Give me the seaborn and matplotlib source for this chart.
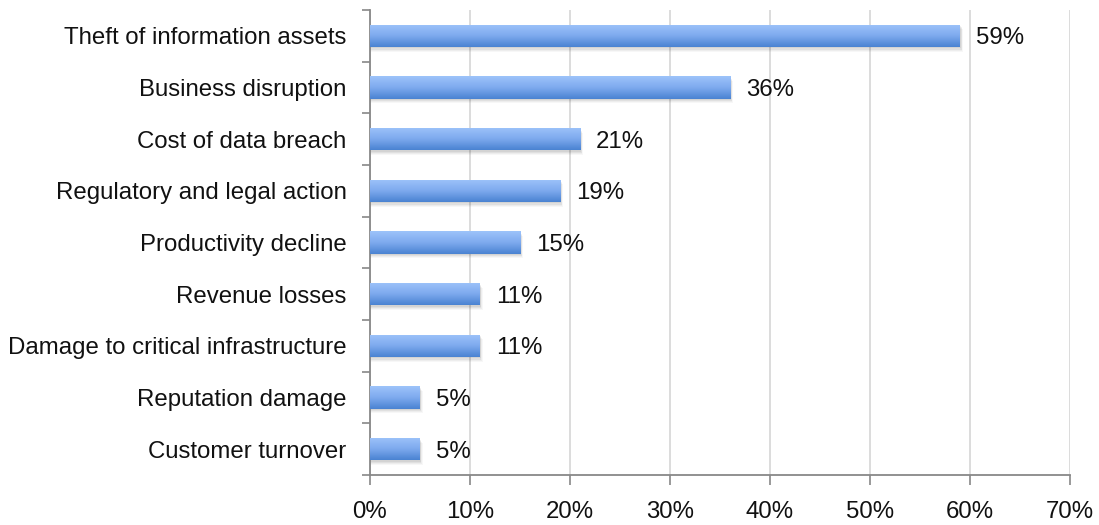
import numpy as np
import pandas as pd
import matplotlib
matplotlib.use("Agg")
import matplotlib.pyplot as plt
from matplotlib.colors import LinearSegmentedColormap
from matplotlib.patches import Rectangle
from matplotlib.ticker import FixedLocator
import seaborn as sns

categories = [
    "Theft of information assets",
    "Business disruption",
    "Cost of data breach",
    "Regulatory and legal action",
    "Productivity decline",
    "Revenue losses",
    "Damage to critical infrastructure",
    "Reputation damage",
    "Customer turnover",
]
values = [59, 36, 21, 19, 15, 11, 11, 5, 5]
x_ticks = [0, 10, 20, 30, 40, 50, 60, 70]

sns.set_theme(style="white")
plt.rcParams["font.family"] = ["Liberation Sans", "DejaVu Sans"]

FS = 17.3

df = pd.DataFrame({"category": categories, "value": values})

fig = plt.figure(figsize=(10.99, 5.25), dpi=100)
ax = fig.add_axes([370 / 1099, 50 / 525, 700 / 1099, 465 / 525])

bar_h = 0.43
sns.barplot(data=df, x="value", y="category", orient="h", width=bar_h,
            color="#6f9fe6", ax=ax, zorder=3)

ax.set_xlim(0, 70)
ax.set_ylim(len(categories) - 0.5, -0.5)

# blue vertical gradient (light at top, darker at bottom) with soft shadow
grad = LinearSegmentedColormap.from_list("barblue", ["#9dc3fa", "#7eaaee", "#4a83d2"])
gimg = np.linspace(0, 1, 64).reshape(-1, 1)
for p in list(ax.patches):
    x0, y0 = p.get_x(), p.get_y()
    w, h = p.get_width(), p.get_height()
    for k, a in enumerate([0.06, 0.05, 0.04, 0.03]):
        dx = 0.12 + 0.08 * k
        dy = 0.03 + 0.02 * k
        ax.add_patch(Rectangle((x0 - 0.05, y0 + dy), w + dx, h, facecolor="black",
                               edgecolor="none", alpha=a, zorder=2))
    p.set_facecolor("none")
    p.set_edgecolor("none")
    im = ax.imshow(gimg, cmap=grad, aspect="auto", extent=(x0, x0 + w, y0 + h, y0),
                   interpolation="bilinear", zorder=3)
    im.set_clip_path(Rectangle((x0, y0), w, h, transform=ax.transData))
    ax.text(x0 + w + 1.6, y0 + h / 2, f"{w:.0f}%", va="center_baseline", ha="left",
            fontsize=FS, color="#111111", zorder=4)

ax.set_xlim(0, 70)
ax.set_ylim(len(categories) - 0.5, -0.5)
ax.set_aspect("auto")

ax.xaxis.set_major_locator(FixedLocator(x_ticks))
ax.set_xticklabels([f"{t}%" for t in x_ticks])
ax.grid(axis="x", color="#d9d9d9", linewidth=1.3, zorder=0)
ax.set_axisbelow(True)

ax.set_xlabel("")
ax.set_ylabel("")
ax.yaxis.set_minor_locator(FixedLocator(np.arange(-0.5, len(categories), 1.0)))
ax.tick_params(axis="y", which="major", length=0, pad=17, labelsize=FS, labelcolor="#111111")
ax.tick_params(axis="y", which="minor", left=True, length=6, width=1.2, color="#888888")
ax.tick_params(axis="x", which="major", bottom=True, length=7, width=1.2, color="#888888",
               pad=12, labelsize=FS, labelcolor="#111111")

for side in ["top", "right"]:
    ax.spines[side].set_visible(False)
for side in ["left", "bottom"]:
    ax.spines[side].set_color("#888888")
    ax.spines[side].set_linewidth(1.3)

fig.savefig("out.png", dpi=100)
